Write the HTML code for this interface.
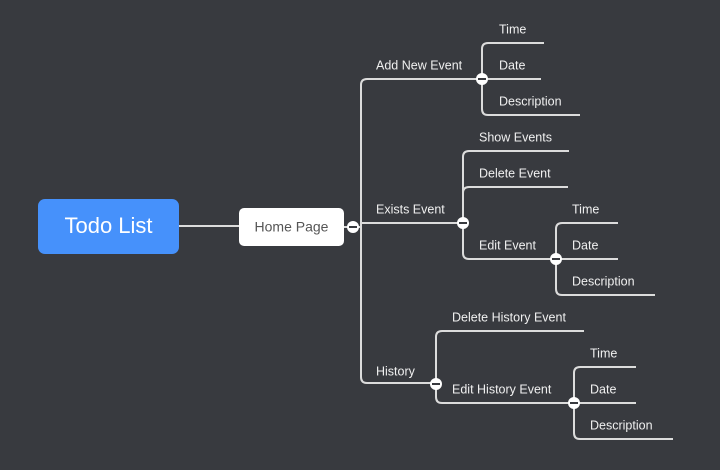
<!DOCTYPE html>
<html><head><meta charset="utf-8"><style>
html,body{margin:0;padding:0;background:#383a3f;width:720px;height:470px;overflow:hidden}
svg{display:block}
text{font-family:"Liberation Sans",sans-serif}
.l{fill:#f0f0f0;font-size:12.5px;dominant-baseline:middle}
</style></head><body>
<svg width="720" height="470" viewBox="0 0 720 470" xmlns="http://www.w3.org/2000/svg">
<rect width="720" height="470" fill="#383a3f"/>
<g fill="none" stroke="#dcdcdc" stroke-width="2">
<path d="M179 226H239"/>
<path d="M344 227H361"/>
<!-- trunk -->
<path d="M481 79H367Q361 79 361 85V377Q361 383 367 383H436"/>
<path d="M361 223H463"/>
<!-- Add New Event -->
<path d="M544 43H488Q482 43 482 49V109Q482 115 488 115H580"/>
<path d="M482 79H541"/>
<!-- Exists -->
<path d="M569 151H469Q463 151 463 157V253Q463 259 469 259H556"/>
<path d="M568 187H469Q463 187 463 193"/>
<!-- Edit Event -->
<path d="M618 223H562Q556 223 556 229V289Q556 295 562 295H655"/>
<path d="M556 259H618"/>
<!-- History -->
<path d="M584 331H442Q436 331 436 337V397Q436 403 442 403H574"/>
<!-- Edit History -->
<path d="M636 367H580Q574 367 574 373V433Q574 439 580 439H673"/>
<path d="M574 403H636"/>
</g>
<rect x="38" y="199" width="141" height="55" rx="7" fill="#4691fb"/>
<text x="108.5" y="227" fill="#fff" font-size="22" text-anchor="middle" dominant-baseline="middle">Todo List</text>
<rect x="239" y="208" width="105" height="38" rx="5" fill="#fff"/>
<text x="291.5" y="228" fill="#555" font-size="14" text-anchor="middle" dominant-baseline="middle">Home Page</text>
<g fill="#fff" stroke="#383a3f" stroke-width="0">
<circle cx="353" cy="227" r="6"/>
<circle cx="482" cy="79" r="6"/>
<circle cx="463" cy="223" r="6"/>
<circle cx="556" cy="259" r="6"/>
<circle cx="436" cy="384" r="6"/>
<circle cx="574" cy="403" r="6"/>
</g>
<g stroke="#383a3f" stroke-width="2">
<path d="M349 227H357"/><path d="M478 79H486"/><path d="M459 223H467"/>
<path d="M552 259H560"/><path d="M432 384H440"/><path d="M570 403H578"/>
</g>
<text class="l" x="376" y="66">Add New Event</text>
<text class="l" x="376" y="210">Exists Event</text>
<text class="l" x="376" y="372">History</text>
<text class="l" x="499" y="30">Time</text>
<text class="l" x="499" y="66">Date</text>
<text class="l" x="499" y="102">Description</text>
<text class="l" x="479" y="138">Show Events</text>
<text class="l" x="479" y="174">Delete Event</text>
<text class="l" x="479" y="246">Edit Event</text>
<text class="l" x="572" y="210">Time</text>
<text class="l" x="572" y="246">Date</text>
<text class="l" x="572" y="282">Description</text>
<text class="l" x="452" y="318">Delete History Event</text>
<text class="l" x="452" y="390">Edit History Event</text>
<text class="l" x="590" y="354">Time</text>
<text class="l" x="590" y="390">Date</text>
<text class="l" x="590" y="426">Description</text>
</svg>
</body></html>
